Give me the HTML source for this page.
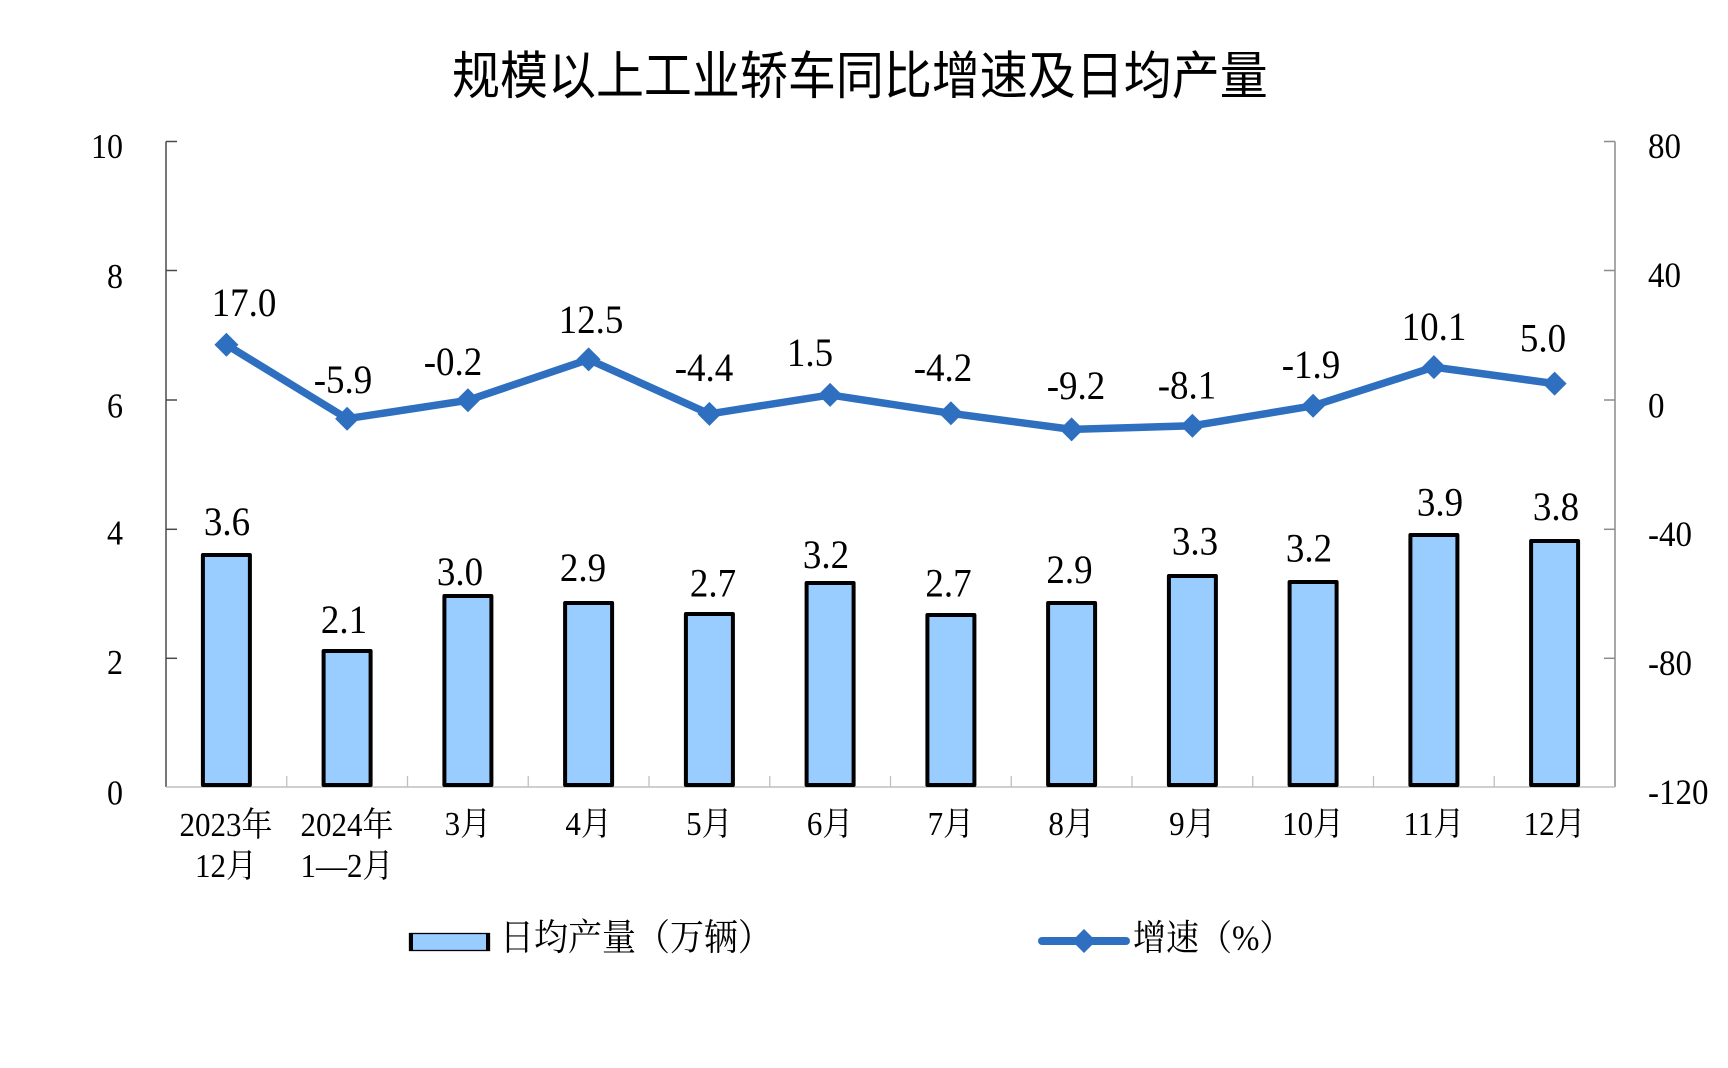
<!DOCTYPE html>
<html>
<head>
<meta charset="utf-8">
<style>
  html, body { margin: 0; padding: 0; background: #ffffff; }
  svg { display: block; }
  .num { font-family: "Liberation Serif", "Noto Serif CJK SC", serif; fill: #000; }
  .cjk { font-family: "Liberation Serif", "Noto Serif CJK SC", serif; fill: #000; }
  .title { font-family: "Noto Sans CJK SC", "WenQuanYi Zen Hei", sans-serif; fill: #000; }
</style>
</head>
<body>
<svg width="1728" height="1068" viewBox="0 0 1728 1068" xmlns="http://www.w3.org/2000/svg">
  <rect x="0" y="0" width="1728" height="1068" fill="#ffffff"/>

  <!-- Title -->
  <text class="title" font-size="48" transform="translate(452,94) scale(1,1.08)">规模以上工业轿车同比增速及日均产量</text>

  <!-- Left axis -->
  <line x1="166" y1="141.5" x2="166" y2="787" stroke="#4a4a4a" stroke-width="1.5"/>
  <g stroke="#4a4a4a" stroke-width="1.5">
    <line x1="166" y1="141.5" x2="177" y2="141.5"/>
    <line x1="166" y1="270.5" x2="177" y2="270.5"/>
    <line x1="166" y1="400" x2="177" y2="400"/>
    <line x1="166" y1="529.3" x2="177" y2="529.3"/>
    <line x1="166" y1="658.3" x2="177" y2="658.3"/>
  </g>

  <!-- Right axis -->
  <line x1="1615" y1="141.5" x2="1615" y2="787" stroke="#8c8c8c" stroke-width="1.5"/>
  <g stroke="#8c8c8c" stroke-width="1.5">
    <line x1="1604" y1="141.5" x2="1615" y2="141.5"/>
    <line x1="1604" y1="270.5" x2="1615" y2="270.5"/>
    <line x1="1604" y1="400" x2="1615" y2="400"/>
    <line x1="1604" y1="529.3" x2="1615" y2="529.3"/>
    <line x1="1604" y1="658.3" x2="1615" y2="658.3"/>
  </g>

  <!-- Baseline and category ticks -->
  <line x1="166" y1="787" x2="1615" y2="787" stroke="#bfbfbf" stroke-width="1.5"/>
  <g stroke="#bfbfbf" stroke-width="1.3">
    <line x1="286.75" y1="776" x2="286.75" y2="787"/>
    <line x1="407.5" y1="776" x2="407.5" y2="787"/>
    <line x1="528.25" y1="776" x2="528.25" y2="787"/>
    <line x1="649" y1="776" x2="649" y2="787"/>
    <line x1="769.75" y1="776" x2="769.75" y2="787"/>
    <line x1="890.5" y1="776" x2="890.5" y2="787"/>
    <line x1="1011.25" y1="776" x2="1011.25" y2="787"/>
    <line x1="1132" y1="776" x2="1132" y2="787"/>
    <line x1="1252.75" y1="776" x2="1252.75" y2="787"/>
    <line x1="1373.5" y1="776" x2="1373.5" y2="787"/>
    <line x1="1494.25" y1="776" x2="1494.25" y2="787"/>
  </g>

  <!-- Left tick labels -->
  <g class="num" font-size="32" text-anchor="end">
    <text transform="translate(123,158.1) scale(1,1.08)">10</text>
    <text transform="translate(123,288.1) scale(1,1.08)">8</text>
    <text transform="translate(123,417.4) scale(1,1.08)">6</text>
    <text transform="translate(123,544.4) scale(1,1.08)">4</text>
    <text transform="translate(123,673.9) scale(1,1.08)">2</text>
    <text transform="translate(123,804.4) scale(1,1.08)">0</text>
  </g>

  <!-- Right tick labels -->
  <g class="num" font-size="33" text-anchor="start">
    <text transform="translate(1648,157.8) scale(1,1.08)">80</text>
    <text transform="translate(1648,286.8) scale(1,1.08)">40</text>
    <text transform="translate(1648,417.3) scale(1,1.08)">0</text>
    <text transform="translate(1648,545.8) scale(1,1.08)">-40</text>
    <text transform="translate(1648,674.8) scale(1,1.08)">-80</text>
    <text transform="translate(1648,803.8) scale(1,1.08)">-120</text>
  </g>

  <!-- Bars -->
  <g fill="#99ccff" stroke="#000" stroke-width="4" stroke-linejoin="round">
    <rect x="202.9" y="555" width="47" height="230"/>
    <rect x="323.6" y="651" width="47" height="134"/>
    <rect x="444.4" y="596" width="47" height="189"/>
    <rect x="565.1" y="603" width="47" height="182"/>
    <rect x="685.9" y="614" width="47" height="171"/>
    <rect x="806.6" y="583" width="47" height="202"/>
    <rect x="927.4" y="615" width="47" height="170"/>
    <rect x="1048.1" y="603" width="47" height="182"/>
    <rect x="1168.9" y="576" width="47" height="209"/>
    <rect x="1289.6" y="582" width="47" height="203"/>
    <rect x="1410.4" y="535" width="47" height="250"/>
    <rect x="1531.1" y="541" width="47" height="244"/>
  </g>

  <!-- Growth line -->
  <polyline fill="none" stroke="#2e6fbf" stroke-width="7.5" stroke-linejoin="round"
    points="226.4,344.8 347.1,418.7 467.9,400.3 588.6,359.4 709.4,413.9 830.1,394.9 950.9,413.3 1071.6,429.4 1192.4,425.8 1313.1,405.8 1433.9,367.1 1554.6,383.6"/>
  <g fill="#2e6fbf">
    <polygon points="226.4,332.8 238.4,344.8 226.4,356.8 214.4,344.8"/>
    <polygon points="347.1,406.7 359.1,418.7 347.1,430.7 335.1,418.7"/>
    <polygon points="467.9,388.3 479.9,400.3 467.9,412.3 455.9,400.3"/>
    <polygon points="588.6,347.4 600.6,359.4 588.6,371.4 576.6,359.4"/>
    <polygon points="709.4,401.9 721.4,413.9 709.4,425.9 697.4,413.9"/>
    <polygon points="830.1,382.9 842.1,394.9 830.1,406.9 818.1,394.9"/>
    <polygon points="950.9,401.3 962.9,413.3 950.9,425.3 938.9,413.3"/>
    <polygon points="1071.6,417.4 1083.6,429.4 1071.6,441.4 1059.6,429.4"/>
    <polygon points="1192.4,413.8 1204.4,425.8 1192.4,437.8 1180.4,425.8"/>
    <polygon points="1313.1,393.8 1325.1,405.8 1313.1,417.8 1301.1,405.8"/>
    <polygon points="1433.9,355.1 1445.9,367.1 1433.9,379.1 1421.9,367.1"/>
    <polygon points="1554.6,371.6 1566.6,383.6 1554.6,395.6 1542.6,383.6"/>
  </g>

  <!-- Line labels -->
  <g class="num" font-size="37" text-anchor="middle">
    <text transform="translate(244,316.2) scale(1,1.08)">17.0</text>
    <text transform="translate(343,393.2) scale(1,1.08)">-5.9</text>
    <text transform="translate(453,375.2) scale(1,1.08)">-0.2</text>
    <text transform="translate(591,333.2) scale(1,1.08)">12.5</text>
    <text transform="translate(704,381.2) scale(1,1.08)">-4.4</text>
    <text transform="translate(810,366.2) scale(1,1.08)">1.5</text>
    <text transform="translate(943,381.2) scale(1,1.08)">-4.2</text>
    <text transform="translate(1076,399.2) scale(1,1.08)">-9.2</text>
    <text transform="translate(1187,398.7) scale(1,1.08)">-8.1</text>
    <text transform="translate(1311,378.2) scale(1,1.08)">-1.9</text>
    <text transform="translate(1434,340.2) scale(1,1.08)">10.1</text>
    <text transform="translate(1543,351.7) scale(1,1.08)">5.0</text>
  </g>

  <!-- Bar labels -->
  <g class="num" font-size="37" text-anchor="middle">
    <text transform="translate(227,535.2) scale(1,1.08)">3.6</text>
    <text transform="translate(344,633.2) scale(1,1.08)">2.1</text>
    <text transform="translate(460,585.2) scale(1,1.08)">3.0</text>
    <text transform="translate(583,581.2) scale(1,1.08)">2.9</text>
    <text transform="translate(713,596.7) scale(1,1.08)">2.7</text>
    <text transform="translate(826,568.2) scale(1,1.08)">3.2</text>
    <text transform="translate(948.5,596.7) scale(1,1.08)">2.7</text>
    <text transform="translate(1069.5,583.2) scale(1,1.08)">2.9</text>
    <text transform="translate(1195,554.7) scale(1,1.08)">3.3</text>
    <text transform="translate(1309,561.7) scale(1,1.08)">3.2</text>
    <text transform="translate(1440,515.7) scale(1,1.08)">3.9</text>
    <text transform="translate(1556,520.2) scale(1,1.08)">3.8</text>
  </g>

  <!-- X-axis category labels -->
  <g class="cjk" font-size="31" text-anchor="middle">
    <text transform="translate(226,836) scale(1,1.08)">2023年</text>
    <text transform="translate(226,877) scale(1,1.08)">12月</text>
    <text transform="translate(347,836) scale(1,1.08)">2024年</text>
    <text transform="translate(347,877) scale(1,1.08)">1—2月</text>
    <text transform="translate(467.9,835) scale(1,1.08)">3月</text>
    <text transform="translate(588.6,835) scale(1,1.08)">4月</text>
    <text transform="translate(709.4,835) scale(1,1.08)">5月</text>
    <text transform="translate(830.1,835) scale(1,1.08)">6月</text>
    <text transform="translate(950.9,835) scale(1,1.08)">7月</text>
    <text transform="translate(1071.6,835) scale(1,1.08)">8月</text>
    <text transform="translate(1192.4,835) scale(1,1.08)">9月</text>
    <text transform="translate(1313.1,835) scale(1,1.08)">10月</text>
    <text transform="translate(1433.9,835) scale(1,1.08)">11月</text>
    <text transform="translate(1554.6,835) scale(1,1.08)">12月</text>
  </g>

  <!-- Legend: bars -->
  <rect x="409.5" y="933.5" width="80" height="17" fill="#99ccff" stroke="#000" stroke-width="1.3"/>
  <rect x="409" y="933" width="4" height="18" fill="#000"/>
  <rect x="486" y="933" width="4" height="18" fill="#000"/>
  <text class="cjk" font-size="34" transform="translate(500,950) scale(1,1.08)">日均产量（万辆）</text>

  <!-- Legend: line -->
  <line x1="1042" y1="941" x2="1126" y2="941" stroke="#2e6fbf" stroke-width="8" stroke-linecap="round"/>
  <polygon points="1084,929 1096,941 1084,953 1072,941" fill="#2e6fbf"/>
  <text class="cjk" font-size="33" transform="translate(1133,950) scale(1,1.08)">增速（%）</text>
</svg>
</body>
</html>
